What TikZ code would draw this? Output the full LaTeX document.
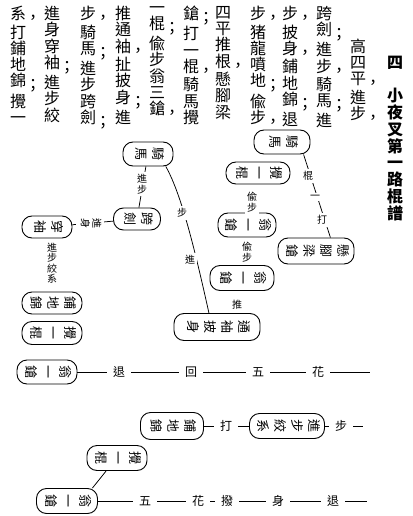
\documentclass[tikz,border=0pt]{standalone}
\usepackage{fontspec}
\usepackage{graphicx}
\newfontfamily\cjk{Noto Sans CJK TC}
\usetikzlibrary{calc}

\newcommand\pu[1]{\rlap{\raisebox{-4pt}{\hspace*{-1pt}#1}}}
\newcommand\side[1]{\rotatebox{-90}{\begin{tabular}{@{}c@{}}#1\end{tabular}}}

\tikzset{
  body/.style={font=\cjk\fontsize{16}{16.3}\selectfont, align=center, inner sep=0pt, anchor=north},
  head/.style={body, font=\cjk\bfseries\fontsize{16}{16.8}\selectfont},
  stage/.style={draw, line width=0.9pt, rounded corners=10pt, inner sep=0pt, font=\cjk\fontsize{13}{17}\selectfont},
  span/.style 2 args={minimum width=#1pt, minimum height=#2pt},
  tag/.style={font=\cjk\fontsize{10}{10.5}\selectfont, align=center, inner sep=2pt, fill=white},
  htag/.style={tag, font=\cjk\fontsize{12}{12}\selectfont, inner xsep=6pt},
  link/.style={line width=0.75pt}
}

\begin{document}
\begin{tikzpicture}[x=1pt, y=-1pt]
\useasboundingbox (0,0) rectangle (412,516);

%%%%% TEXT %%%%%
\node[head] (title) at (395,55.5) {四\\ \\小\\夜\\叉\\第\\一\\路\\棍\\譜};
\node[body] (col11) at (358,38.6) {高\\四\\平\pu{，}\\進\\步\pu{，}};
\node[body] (col10) at (324,6) {跨\\劍\pu{；}\\進\\步\pu{，}\\騎\\馬\pu{；}\\進};
\node[body] (col9) at (290,6) {步\pu{，}\\披\\身\pu{，}\\鋪\\地\\錦\pu{；}\\退};
\node[body] (col8) at (258,6) {步\pu{，}\\猪\\龍\\噴\\地\pu{；}\\偸\\步\pu{，}};
\node[body] (col7) at (223,6) {四\\平\\推\\根\pu{，}\\懸\\腳\\梁};
\node[body] (col6) at (191,6) {鎗\pu{；}\\打\\一\\棍\pu{，}\\騎\\馬\\攪};
\node[body] (col5) at (157,6) {一\\棍\pu{；}\\偸\\步\\翁\\三\\鎗\pu{，}};
\node[body] (col4) at (123,6) {推\\通\\袖\pu{，}\\扯\\披\\身\pu{；}\\進};
\node[body] (col3) at (88,6) {步\pu{，}\\騎\\馬\pu{；}\\進\\步\\跨\\劍\pu{；}};
\node[body] (col2) at (52,6) {進\\身\\穿\\袖\pu{；}\\進\\步\\絞};
\node[body] (col1) at (18,6) {系\pu{，}\\打\\鋪\\地\\錦\pu{；}\\攪\\一};

%%%%% STAGES %%%%%
\node[stage, span={50}{24}] (rideL) at (148,154) {\side{騎\\馬}};
\node[stage, span={47}{22}] (kua) at (137,219) {\side{跨\\劍}};
\node[stage, span={50}{22}] (chuan) at (47,227) {\side{穿\\袖}};
\node[stage, span={60}{22}] (puL) at (52,303) {\side{鋪\\地\\錦}};
\node[stage, span={60}{23}] (jiaoL) at (52,333) {\side{攪\\一\\棍}};
\node[stage, span={60}{24}] (zhaL) at (47,372) {\side{翁\\一\\鎗}};

\node[stage, span={56}{24}] (rideR) at (282,142) {\side{騎\\馬}};
\node[stage, span={64}{22}] (jiaoR) at (258,173) {\side{攪\\一\\棍}};
\node[stage, span={58}{24}] (zhaA) at (247,225) {\side{翁\\一\\鎗}};
\node[stage, span={64}{25}] (zhaB) at (242,278) {\side{翁\\一\\鎗}};
\node[stage, span={86}{27}] (tong) at (217,327) {\side{通\\袖\\披\\身}};
\node[stage, span={76}{26}] (xuan) at (316,251) {\side{懸\\腳\\梁\\鎗}};

\node[stage, span={63}{27}] (puB) at (172,426) {\side{鋪\\地\\錦}};
\node[stage, span={75}{25}] (jin) at (287,426) {\side{進\\步\\絞\\系}};
\node[stage, span={60}{25}] (jiaoB) at (117,458) {\side{攪\\一\\棍}};
\node[stage, span={61}{25}] (zhaC) at (67,501) {\side{翁\\一\\鎗}};

\coordinate (fEnd) at (370,372);
\coordinate (nEnd) at (363,426);
\coordinate (pEnd) at (367,501);

%%%%% LINKS %%%%%
\draw[link] (rideL) -- (kua);
\draw[link] (kua) -- (chuan);
\draw[link] (rideL.-35) .. controls (182,195) and (196,255) .. (tong.120);
\draw[link] (rideR.-30) -- (xuan.43);
\draw[link] (zhaL) -- (fEnd);
\draw[link] (puB) -- (jin);
\draw[link] (jin) -- (nEnd);
\draw[link] (jiaoB.-130) -- (zhaC.27);
\draw[link] (zhaC) -- (pEnd);

%%%%% TAGS %%%%%
\node[tag] (t1) at (142,184) {進\\步};
\node[tag] (t2) at (90,223) {\side{進\\身}};
\node[tag] (t3) at (52,263) {進\\步\\絞\\系};
\node[tag] (t4) at (252,202) {偸\\步};
\node[tag] (t5) at (247,252) {偸\\步};
\node[tag] (t6) at (237,305) {推};
\node[tag] (t7) at (308,176) {棍};
\node[tag] (t8) at (315,197) {一};
\node[tag] (t9) at (322,220) {打};
\node[tag] (t10) at (182,213) {步};
\node[tag] (t11) at (190,260) {進};

\node[htag] (f1) at (119,372) {退};
\node[htag] (f2) at (191,372) {回};
\node[htag] (f3) at (258,372) {五};
\node[htag] (f4) at (318,372) {花};

\node[htag] (n1) at (226,426) {打};
\node[htag] (n2) at (341,426) {步};

\node[htag] (p1) at (145,501) {五};
\node[htag] (p2) at (198,501) {花};
\node[htag] (p3) at (227,501) {撥};
\node[htag] (p4) at (278,501) {身};
\node[htag] (p5) at (333,501) {退};
\end{tikzpicture}
\end{document}
